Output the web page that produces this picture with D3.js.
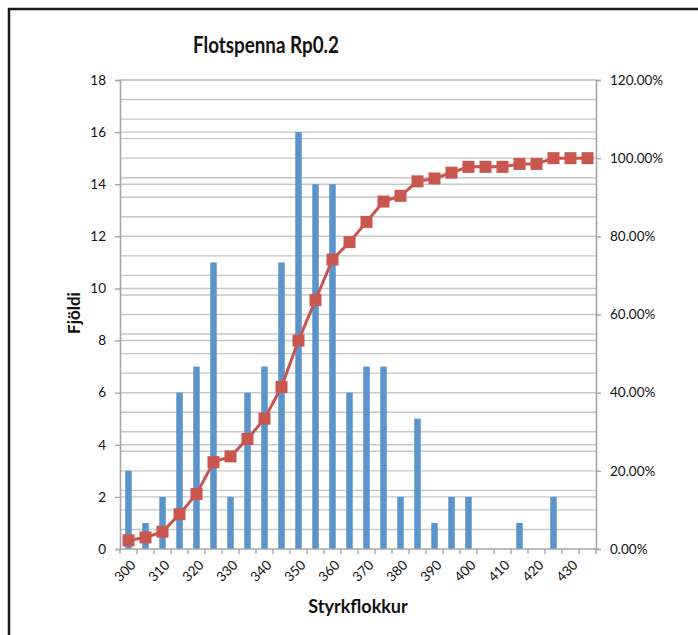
<!DOCTYPE html>
<html>
<head>
<meta charset="utf-8">
<script src="https://cdn.jsdelivr.net/npm/d3@7/dist/d3.min.js"></script>
<style>
  html, body { margin: 0; padding: 0; background: #fff; }
  svg { display: block; }
  text { font-family: Lato, "Open Sans", sans-serif; fill: #111; }
</style>
</head>
<body>
<svg id="chart" width="698" height="635"></svg>
<script>
// Strength classes (lower bound of each 5 MPa bin)
const categories = [300, 305, 310, 315, 320, 325, 330, 335, 340, 345, 350, 355, 360, 365,
                    370, 375, 380, 385, 390, 395, 400, 405, 410, 415, 420, 425, 430, 435];
// Number of samples in each class
const counts = [3, 1, 2, 6, 7, 11, 2, 6, 7, 11, 16, 14, 14, 6,
                7, 7, 2, 5, 1, 2, 2, 0, 0, 1, 0, 2, 0, 0];
// Cumulative share (%) up to and including each class
const cumulative = [2.22, 2.96, 4.44, 8.89, 14.07, 22.22, 23.70, 28.15, 33.33, 41.48, 53.33, 63.70, 74.07, 78.52,
                    83.70, 88.89, 90.37, 94.07, 94.81, 96.30, 97.78, 97.78, 97.78, 98.52, 98.52, 100.00, 100.00, 100.00];
const leftTicks = [0, 2, 4, 6, 8, 10, 12, 14, 16, 18];
const rightTicks = [0, 20, 40, 60, 80, 100, 120];

const svg = d3.select("#chart");
const plot = { left: 120, right: 596, top: 80, bottom: 549 };

// Outer chart frame
svg.append("rect")
  .attr("x", 9).attr("y", 9).attr("width", 720).attr("height", 660)
  .attr("fill", "none").attr("stroke", "#1a1a1a").attr("stroke-width", 2.5);

const x = d3.scaleBand().domain(categories).range([plot.left, plot.right]).padding(0);
const yL = d3.scaleLinear().domain([0, 18]).range([plot.bottom, plot.top]);
const yR = d3.scaleLinear().domain([0, 120]).range([plot.bottom, plot.top]);

const grid = svg.append("g");
// Secondary-axis gridlines every 5 %
grid.selectAll("line.r").data(d3.range(5, 121, 5)).join("line")
  .attr("x1", plot.left).attr("x2", plot.right)
  .attr("y1", d => yR(d)).attr("y2", d => yR(d))
  .attr("stroke", "#c6c6c6").attr("stroke-width", 1.4);
// Primary-axis gridlines every 2
grid.selectAll("line.l").data(leftTicks.slice(1)).join("line")
  .attr("x1", plot.left).attr("x2", plot.right)
  .attr("y1", d => yL(d)).attr("y2", d => yL(d))
  .attr("stroke", "#c6c6c6").attr("stroke-width", 1.4);

// Bars
const barW = 6.5;
svg.append("g").selectAll("rect").data(categories).join("rect")
  .attr("x", (d) => x(d) + x.bandwidth() / 2 - barW / 2)
  .attr("width", barW)
  .attr("y", (d, i) => yL(counts[i]))
  .attr("height", (d, i) => yL(0) - yL(counts[i]))
  .attr("fill", "#5b94cb");

// Left axis
const axL = svg.append("g").attr("transform", `translate(${plot.left},0)`)
  .call(d3.axisLeft(yL).tickValues(leftTicks).tickSize(5).tickPadding(9));
// Right axis
const axR = svg.append("g").attr("transform", `translate(${plot.right},0)`)
  .call(d3.axisRight(yR).tickValues(rightTicks).tickSize(5).tickPadding(9)
    .tickFormat(d => d.toFixed(2) + "%"));
[axL, axR].forEach(a => {
  a.select(".domain").attr("stroke", "#a6a6a6").attr("stroke-width", 1.6);
  a.selectAll(".tick line").attr("stroke", "#a6a6a6").attr("stroke-width", 1.4);
  a.selectAll(".tick text").attr("font-size", 13.5).attr("font-family", "Lato, sans-serif").attr("fill", "#111");
});

// Bottom axis: labels on every other class, tick marks at class boundaries
const axB = svg.append("g").attr("transform", `translate(0,${plot.bottom})`)
  .call(d3.axisBottom(x).tickSize(0).tickPadding(0)
    .tickValues(categories.filter((d, i) => i % 2 === 0)));
axB.select(".domain").remove();
axB.selectAll(".tick text")
  .attr("font-size", 13.5).attr("font-family", "Lato, sans-serif").attr("fill", "#111")
  .attr("text-anchor", "end")
  .attr("dy", null)
  .attr("transform", "translate(8,17) rotate(-45)");
const bounds = categories.map(d => x(d)).concat([x(categories[categories.length - 1]) + x.bandwidth()]);
const xAxisG = svg.append("g");
xAxisG.append("line")
  .attr("x1", plot.left).attr("x2", plot.right)
  .attr("y1", plot.bottom).attr("y2", plot.bottom)
  .attr("stroke", "#a6a6a6").attr("stroke-width", 1.6);
xAxisG.selectAll("line.t").data(bounds).join("line")
  .attr("x1", d => d).attr("x2", d => d)
  .attr("y1", plot.bottom).attr("y2", plot.bottom + 5)
  .attr("stroke", "#a6a6a6").attr("stroke-width", 1.4);

// Cumulative line with square markers
const cx = d => x(d) + x.bandwidth() / 2;
const line = d3.line().x((d, i) => cx(categories[i])).y(d => yR(d));
svg.append("path").datum(cumulative)
  .attr("d", line).attr("fill", "none")
  .attr("stroke", "#c9544f").attr("stroke-width", 3);
const ms = 12;
svg.append("g").selectAll("rect").data(cumulative).join("rect")
  .attr("x", (d, i) => cx(categories[i]) - ms / 2)
  .attr("y", d => yR(d) - ms / 2)
  .attr("width", ms).attr("height", ms)
  .attr("fill", "#c9574f");

// Titles
svg.append("text").attr("x", 266).attr("y", 53)
  .attr("text-anchor", "middle").attr("font-size", 22).attr("font-weight", "bold")
  .attr("textLength", 146).attr("lengthAdjust", "spacingAndGlyphs")
  .text("Flotspenna Rp0.2");
svg.append("text").attr("transform", "translate(80,313) rotate(-90)")
  .attr("text-anchor", "middle").attr("font-size", 17).attr("font-weight", "bold")
  .text("Fjöldi");
svg.append("text").attr("x", 358).attr("y", 613)
  .attr("text-anchor", "middle").attr("font-size", 18).attr("font-weight", "bold")
  .text("Styrkflokkur");
</script>
</body>
</html>
